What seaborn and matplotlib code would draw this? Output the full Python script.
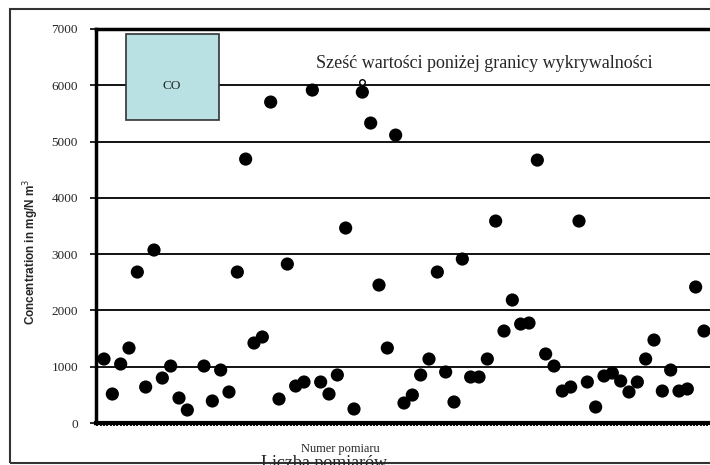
import numpy as np
import pandas as pd
import matplotlib
matplotlib.use("Agg")
import matplotlib.pyplot as plt
import seaborn as sns
from matplotlib.patches import Rectangle
from matplotlib.ticker import MultipleLocator

# numer pomiaru (0..72), pomiar nr 11 brak (poniżej granicy wykrywalności)
numer = list(range(73))
stezenie = [1137, 515, 1048, 1332, 2682, 639, 3073, 799, 1012, 444,
            231, None, 1012, 391, 941, 551, 2682, 4689, 1421, 1528,
            5702, 426, 2824, 657, 728, 5915, 728, 515, 853, 3464,
            249, 5879, 5329, 2451, 1332, 5115, 355, 497, 853, 1137,
            2682, 906, 373, 2913, 817, 817, 1137, 3588, 1634, 2185,
            1758, 1776, 4671, 1226, 1012, 568, 639, 3588, 728, 284,
            835, 888, 746, 551, 728, 1137, 1474, 568, 941, 568,
            604, 2416, 1634]
y_ticks = [0, 1000, 2000, 3000, 4000, 5000, 6000, 7000]

df = pd.DataFrame({"numer": numer, "stezenie": stezenie}).dropna()

sns.set_theme(style="white")
plt.rcParams['font.family'] = ['Liberation Serif', 'DejaVu Serif']

fig = plt.figure(figsize=(7.1, 4.65), dpi=100)
ax = fig.add_axes([96 / 710, 42 / 465, 1 - 96 / 710, 394 / 465])

# siatka pozioma
for v in y_ticks[1:-1]:
    ax.axhline(v, color='black', lw=1.3, zorder=1)

sns.scatterplot(data=df, x="numer", y="stezenie", color='black', s=90,
                edgecolor='none', ax=ax, zorder=3, legend=False)

ax.set_xlim(-0.96, 72.72)
ax.set_ylim(0, 7000)
ax.set_yticks(y_ticks)
ax.set_yticklabels([str(v) for v in y_ticks], fontsize=9.5)
ax.set_xticks([])
ax.xaxis.set_minor_locator(MultipleLocator(0.4))
ax.tick_params(axis='x', which='minor', bottom=True, length=2, width=1.3,
               color='black', direction='out')
ax.tick_params(axis='y', left=True, length=4, width=1.2, color='black', pad=9)

ax.spines['right'].set_visible(False)
ax.spines['left'].set_linewidth(2.5)
ax.spines['top'].set_linewidth(2.5)
ax.spines['bottom'].set_linewidth(3)
for side in ['left', 'top', 'bottom']:
    ax.spines[side].set_color('black')

ax.set_xlabel("")
ax.set_ylabel("")
fig.text(31 / 710, 1 - 252 / 465, "Concentration in mg/N m$^3$", rotation=90,
         ha='center', va='center', fontsize=8.5, fontweight='bold',
         family=['Liberation Sans', 'DejaVu Sans'])

# ramka "CO"
ax.add_patch(Rectangle(((126 - 96) / 614, (423 - 120) / 394), 93 / 614, 86 / 394,
                       transform=ax.transAxes, facecolor='#b9e0e2',
                       edgecolor='#333333', lw=1.2, zorder=4))
ax.text((172 - 96) / 614, (423 - 86) / 394, "CO", transform=ax.transAxes,
        ha='center', va='center', fontsize=9.5, zorder=5)

ax.text((316 - 96) / 614, (423 - 64) / 394,
        "Sześć wartości poniżej granicy wykrywalności",
        transform=ax.transAxes, ha='left', va='center', fontsize=13, zorder=5)
ax.plot([31], [6060], marker='o', ms=4, mfc='white', mec='black', mew=1, zorder=4)

fig.text(340 / 710, 1 - 449 / 465, "Numer pomiaru", ha='center', va='center',
         fontsize=8.9)
fig.text(324 / 710, 1 - 455 / 465, "Liczba pomiarów", ha='center', va='top',
         fontsize=13)

# zewnętrzna ramka
fig.patches.append(Rectangle((10 / 710, 2 / 465), 1.0, 454 / 465,
                             transform=fig.transFigure, fill=False,
                             edgecolor='#333333', lw=1.5))

fig.savefig("out.png", dpi=100)
